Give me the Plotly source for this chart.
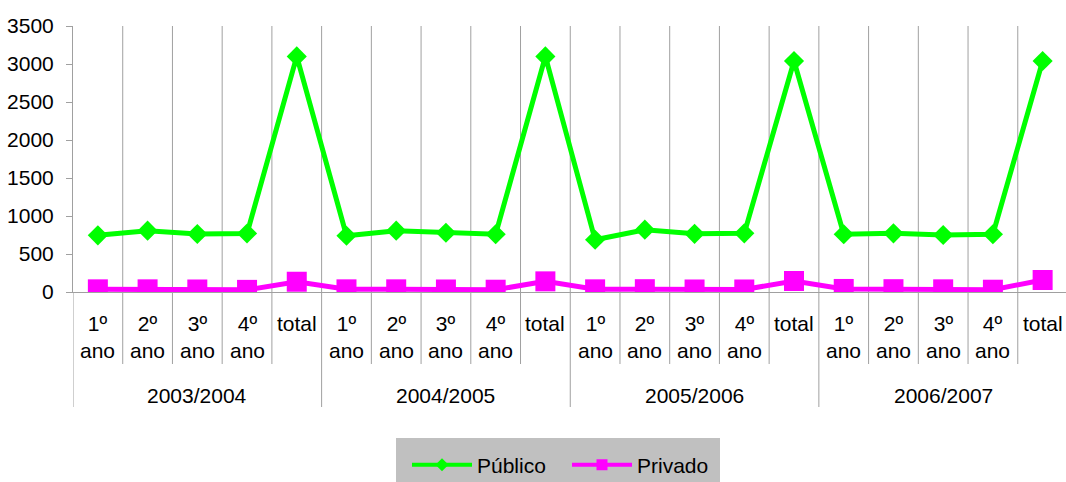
import plotly.graph_objects as go

# Academic years and the rows reported within each one
years = ["2003/2004", "2004/2005", "2005/2006", "2006/2007"]
rows = ["1º<br>ano", "2º<br>ano", "3º<br>ano", "4º<br>ano", "total"]

# Enrolments per row, in year order
publico = [746, 807, 763, 770, 3100,
           740, 807, 780, 760, 3100,
           687, 820, 765, 772, 3040,
           760, 772, 750, 760, 3040]
privado = [35, 35, 33, 28, 135,
           35, 35, 33, 30, 140,
           35, 37, 33, 33, 145,
           40, 37, 35, 30, 158]

n_rows = len(rows)
n_cats = len(years) * n_rows
x_idx = list(range(n_cats))

GREEN = "#00FF00"
MAGENTA = "#FF00FF"
GRID = "#A0A0A0"
FONT = "Liberation Sans, Arial, sans-serif"
FS = 21

# plot area: 73..1066 px wide, 26..292 px tall
PLOT_L, PLOT_W, PLOT_H = 73.0, 993.0, 266.0
def py(px_below):
    return -px_below / PLOT_H
def px(x_pixel):
    return (x_pixel - PLOT_L) / PLOT_W

fig = go.Figure()

fig.add_trace(go.Scatter(
    x=x_idx, y=publico, mode="lines+markers", name="Público",
    line=dict(color=GREEN, width=5),
    marker=dict(symbol="diamond", size=15.5, color=GREEN),
    showlegend=False,
))
fig.add_trace(go.Scatter(
    x=x_idx, y=privado, mode="lines+markers", name="Privado",
    line=dict(color=MAGENTA, width=5),
    marker=dict(symbol="square", size=20, color=MAGENTA),
    showlegend=False,
))
# legend entries with smaller symbols
fig.add_trace(go.Scatter(
    x=[None], y=[None], mode="lines+markers", name="Público",
    line=dict(color=GREEN, width=4),
    marker=dict(symbol="diamond", size=10, color=GREEN),
))
fig.add_trace(go.Scatter(
    x=[None], y=[None], mode="lines+markers", name="Privado",
    line=dict(color=MAGENTA, width=4),
    marker=dict(symbol="square", size=11, color=MAGENTA),
))

shapes = []
annotations = []
# vertical separators: between rows (down through row labels) and between years (down through year labels)
for k in range(1, n_cats):
    bottom = py(115) if k % n_rows == 0 else py(72)
    shapes.append(dict(type="line", xref="x", yref="paper",
                       x0=k - 0.5, x1=k - 0.5, y0=1, y1=bottom,
                       line=dict(color=GRID, width=1), layer="below"))
# left edge continues below the axis past the year labels
shapes.append(dict(type="line", xref="x", yref="paper",
                   x0=-0.5, x1=-0.5, y0=0, y1=py(115),
                   line=dict(color=GRID, width=1), layer="below"))
# grey legend panel
shapes.append(dict(type="rect", xref="paper", yref="paper",
                   x0=px(396), x1=px(720), y0=py(146), y1=py(192),
                   fillcolor="#C0C0C0", line=dict(width=0), layer="below"))

for g, year in enumerate(years):
    for r, lab in enumerate(rows):
        annotations.append(dict(
            x=g * n_rows + r, y=py(18), xref="x", yref="paper",
            text=lab, showarrow=False, yanchor="top", xanchor="center",
            font=dict(size=FS, color="black", family=FONT),
        ))
    annotations.append(dict(
        x=g * n_rows + (n_rows - 1) / 2, y=py(103), xref="x", yref="paper",
        text=year, showarrow=False, yanchor="middle", xanchor="center",
        font=dict(size=FS, color="black", family=FONT),
    ))

fig.update_layout(
    width=1066, height=482,
    margin=dict(l=73, r=0, t=26, b=190, autoexpand=False),
    paper_bgcolor="white", plot_bgcolor="white",
    font=dict(family=FONT, size=FS, color="black"),
    xaxis=dict(
        range=[-0.5, 19.47], showgrid=False, zeroline=False,
        showticklabels=False, ticks="",
        showline=True, linecolor=GRID, linewidth=1,
    ),
    yaxis=dict(
        range=[0, 3500], dtick=500, showgrid=False, zeroline=False,
        ticks="outside", ticklen=6, tickcolor=GRID, tickwidth=1,
        showline=True, linecolor=GRID, linewidth=1,
        tickfont=dict(size=FS, family=FONT, color="black"),
        ticklabelstandoff=8,
    ),
    legend=dict(
        orientation="h", x=px(407), xanchor="left",
        y=py(173), yanchor="middle", bgcolor="rgba(0,0,0,0)",
        font=dict(size=FS, family=FONT, color="black"),
        itemwidth=60, entrywidth=85,
    ),
    shapes=shapes,
    annotations=annotations,
)

fig.write_html("out.html")
